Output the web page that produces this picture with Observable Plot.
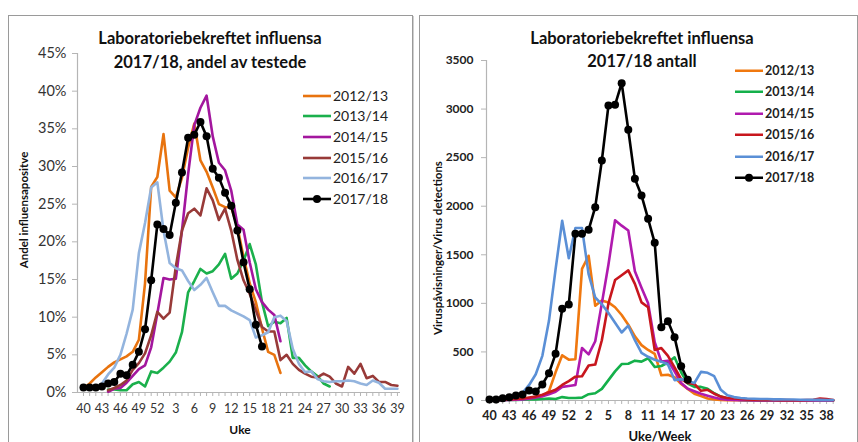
<!DOCTYPE html>
<html>
<head>
<meta charset="utf-8">
<script src="https://cdn.jsdelivr.net/npm/d3@7"></script>
<script src="https://cdn.jsdelivr.net/npm/@observablehq/plot@0.6"></script>
<style>
  body { margin: 0; background: #fff; font-family: Lato, "Open Sans", sans-serif; }
  #wrap { position: relative; width: 858px; height: 442px; overflow: hidden; background: #fff; }
  .panel { position: absolute; border: 1px solid #9a9a9a; box-shadow: 1px 1px 0 #cfcfcf; }
  .chart { position: absolute; top: 0; }
  .t { position: absolute; white-space: nowrap; color: #111; line-height: 1; }
</style>
</head>
<body>
<div id="wrap">
  <div class="panel" style="left:8px;top:15px;width:403px;height:440px;"></div>
  <div class="panel" style="left:419px;top:15px;width:437px;height:440px;"></div>
  <div class="chart" id="left" style="left:0px;"></div>
  <div class="chart" id="right" style="left:420px;"></div>
</div>
<script>
// ---------------- DATA ----------------
const seasons = ["2012/13", "2013/14", "2014/15", "2015/16", "2016/17", "2017/18"];

// Left chart: share of tested that were positive (%)
const leftWeeks = ["40","41","42","43","44","45","46","47","48","49","50","51","52",
  "1","2","3","4","5","6","7","8","9","10","11","12","13","14","15","16","17","18","19","20",
  "21","22","23","24","25","26","27","28","29","30","31","32","33","34","35","36","37","38","39"];
const leftTickLabels = ["40","43","46","49","52","3","6","9","12","15","18","21","24","27","30","33","36","39"];
const leftYTicks = [0, 5, 10, 15, 20, 25, 30, 35, 40, 45];

const left1213 = [0.5,1.2,2.0,2.7,3.4,4.0,4.4,4.8,5.4,7.0,14.5,27.3,28.6,34.3,26.8,25.9,28.5,32.5,35.7,30.8,29.3,27.2,25.0,24.6,24.6,22.0,18.0,14.5,12.0,8.5,5.4,5.0,2.6,
  null,null,null,null,null,null,null,null,null,null,null,null,null,null,null,null,null,null,null];
const left1314 = [null,null,null,null,0.4,0.4,0.3,0.3,1.1,1.4,0.8,2.8,2.6,3.3,4.1,5.3,8.0,13.3,14.8,16.4,15.8,16.1,17.0,18.4,15.1,15.8,17.5,19.7,17.0,12.0,8.8,9.4,9.2,9.9,4.6,4.6,3.6,2.8,2.2,1.2,0.8,
  null,null,null,null,null,null,null,null,null,null,null];
const left1415 = [null,null,null,null,0.1,0.5,0.6,1.3,2.2,3.1,3.6,6.0,10.5,15.2,15.0,15.1,21.5,29.0,35.5,37.8,39.4,34.0,30.5,29.5,26.8,22.3,21.6,17.3,13.7,12.0,11.0,10.3,6.8,
  null,null,null,null,null,null,null,null,null,null,null,null,null,null,null,null,null,null,null];
const left1516 = [null,null,null,null,0.3,0.6,1.0,1.6,3.0,3.9,5.2,7.6,10.7,9.8,10.6,16.7,21.5,23.8,24.4,23.5,27.1,25.5,22.9,24.4,21.5,17.6,14.9,13.1,10.9,8.7,8.1,8.1,4.3,5.0,3.8,3.0,2.5,2.1,2.0,2.5,2.1,1.2,0.8,3.4,2.5,3.8,1.9,2.2,1.4,1.4,1.0,0.9];
const left1617 = [null,null,null,1.2,2.4,3.3,5.0,7.8,11.0,18.5,22.5,27.2,27.9,21.5,17.2,16.5,16.2,14.8,13.6,14.3,15.2,13.3,11.5,11.5,10.9,10.5,10.1,9.6,7.3,7.6,8.0,10.0,10.2,9.5,5.8,3.8,2.7,2.8,1.8,1.5,1.4,1.5,1.5,1.6,1.5,1.2,1.0,1.6,1.3,0.5,0.5,0.5];
const left1718 = [0.66,0.66,0.66,0.8,1.2,1.4,2.5,2.3,3.7,5.4,8.4,14.9,22.3,21.7,20.9,25.2,29.2,33.8,34.2,35.9,34.0,29.7,28.5,26.5,24.8,21.5,17.3,13.7,9.0,6.1,
  null,null,null,null,null,null,null,null,null,null,null,null,null,null,null,null,null,null,null,null,null,null];
const leftColors = ["#E8730E", "#1BB04C", "#A3169E", "#983A38", "#93B4DE", "#000000"];

// Right chart: number of virus detections
const rightWeeks = ["40","41","42","43","44","45","46","47","48","49","50","51","52","53",
  "1","2","3","4","5","6","7","8","9","10","11","12","13","14","15","16","17","18","19","20",
  "21","22","23","24","25","26","27","28","29","30","31","32","33","34","35","36","37","38","39"];
const rightTickLabels = ["40","43","46","49","52","2","5","8","11","14","17","20","23","26","29","32","35","38"];
const rightYTicks = [0, 500, 1000, 1500, 2000, 2500, 3000, 3500];

const right1213 = [5,5,8,10,12,15,20,30,45,95, 290,465,420,425,1355,1490,975,1030,1010,960, 880,780,660,570,520,480,260,265,240,170, 120,70,45,20,10,5,3,2,2,1, 1,0,0,0,0,0,0,0,0,0,0,0,0];
const right1314 = [3,3,5,5,6,8,10,12,15,20, 15,35,25,25,30,65,75,120,210,300, 375,378,410,400,435,345,355,390,445,290, 175,140,140,120,75,40,20,10,5,3, 2,1,0,0,0,0,0,0,0,0,0,0,0];
const right1415 = [2,2,3,5,8,12,18,30,45,65, 90,140,150,160,540,475,610,1000,1400,1855, 1800,1750,1330,1160,1000,600,400,410,300,180, 120,95,70,50,30,15,8,5,3,2, 1,0,0,0,0,0,0,0,0,0,0,0,0];
const right1516 = [5,5,8,10,15,20,30,40,60,85, 110,160,200,245,250,360,370,620,1000,1240, 1290,1340,1200,1010,960,520,540,460,340,220, 180,170,100,110,70,40,25,20,15,10, 8,6,5,5,4,4,3,3,5,8,20,15,5];
const right1617 = [15,15,20,25,40,80,160,270,460,820, 1350,1850,1465,1775,1775,1300,1060,990,900,800, 700,770,620,490,450,420,400,370,210,220, 200,180,295,285,250,110,55,35,25,20, 18,15,15,12,12,10,10,8,8,8,6,5,5];
const right1718 = [10,10,24,34,51,62,103,93,165,281, 480,944,988,1716,1716,1757,1990,2471,3037,3044, 3267,2787,2282,2111,1870,1623,755,817,652,353, 213,
  null,null,null,null,null,null,null,null,null,null,null,null,null,null,null,null,null,null,null,null,null,null];
const rightColors = ["#F0780F", "#14B04A", "#B01AAE", "#C8161D", "#5A8FD6", "#000000"];

// ---------------- HELPERS ----------------
function rows(seriesArrays) {
  const out = [];
  seriesArrays.forEach((arr, k) => arr.forEach((v, i) => {
    if (v != null) out.push({season: seasons[k], i, v});
  }));
  return out;
}

function addText(parent, text, x, y, css, rotate) {
  const d = document.createElement("div");
  d.className = "t";
  d.textContent = text;
  d.style.left = x + "px";
  d.style.top = y + "px";
  d.style.transform = "translate(-50%,-50%)" + (rotate ? " rotate(-90deg)" : "");
  d.style.cssText += css;
  parent.appendChild(d);
}

function addLegend(parent, x, ys, colors, css, lineW) {
  seasons.forEach((s, k) => {
    const row = document.createElement("div");
    row.className = "t";
    row.style.left = x + "px";
    row.style.top = ys[k] + "px";
    row.style.transform = "translateY(-50%)";
    row.style.display = "flex";
    row.style.alignItems = "center";
    row.style.cssText += css;
    const ns = "http://www.w3.org/2000/svg";
    const sw = document.createElementNS(ns, "svg");
    sw.setAttribute("width", lineW);
    sw.setAttribute("height", 10);
    sw.style.marginRight = "2px";
    const ln = document.createElementNS(ns, "line");
    ln.setAttribute("x1", 0); ln.setAttribute("x2", lineW);
    ln.setAttribute("y1", 5); ln.setAttribute("y2", 5);
    ln.setAttribute("stroke", colors[k]);
    ln.setAttribute("stroke-width", 2.6);
    sw.appendChild(ln);
    if (k === seasons.length - 1) {
      const c = document.createElementNS(ns, "circle");
      c.setAttribute("cx", lineW / 2); c.setAttribute("cy", 5); c.setAttribute("r", 4);
      c.setAttribute("fill", colors[k]);
      sw.appendChild(c);
    }
    row.appendChild(sw);
    const sp = document.createElement("span");
    sp.textContent = s;
    row.appendChild(sp);
    parent.appendChild(row);
  });
}

// ---------------- LEFT CHART ----------------
{
  const data = rows([left1213, left1314, left1415, left1516, left1617]);
  const last = rows([[], [], [], [], [], left1718]);
  const allIdx = leftWeeks.map((w, i) => i);
  const tickIdx = leftTickLabels.map(l => leftWeeks.indexOf(l));
  const x0 = -0.97, x1 = 51.5;
  const chart = Plot.plot({
    width: 420, height: 442,
    marginLeft: 77, marginRight: 20, marginTop: 53, marginBottom: 50,
    style: {background: "transparent", overflow: "visible", fontFamily: "Lato, sans-serif"},
    x: {domain: [x0, x1], axis: null, label: null},
    y: {domain: [0, 45], axis: null, label: null},
    color: {domain: seasons, range: leftColors},
    marks: [
      Plot.axisY({ticks: leftYTicks, tickSize: 5, tickPadding: 6, tickFormat: d => d + "%", label: null,
        fontSize: 14.5, fill: "#333", stroke: "#b5b5b5"}),
      Plot.axisX({ticks: allIdx, tickSize: 4, tickFormat: () => "", label: null, stroke: "#b5b5b5"}),
      Plot.axisX({ticks: tickIdx, tickSize: 0, tickPadding: 12, tickFormat: i => leftWeeks[i], label: null,
        fontSize: 12.5, fill: "#333"}),
      Plot.ruleX([x0], {stroke: "#b5b5b5", strokeWidth: 1.2}),
      Plot.ruleY([0], {stroke: "#b5b5b5", strokeWidth: 1.2}),
      Plot.line(data, {x: "i", y: "v", z: "season", stroke: "season", strokeWidth: 2.6}),
      Plot.line(last, {x: "i", y: "v", stroke: leftColors[5], strokeWidth: 2.6}),
      Plot.dot(last, {x: "i", y: "v", r: 4, fill: leftColors[5]})
    ]
  });
  document.getElementById("left").appendChild(chart);
  const wrap = document.getElementById("wrap");
  addText(wrap, "Laboratoriebekreftet influensa", 210, 38, "font-weight:bold;font-size:16.5px;");
  addText(wrap, "2017/18, andel av testede", 210, 62, "font-weight:bold;font-size:16.5px;");
  addText(wrap, "Andel influensapositve", 24, 210, "font-weight:bold;font-size:11.5px;", true);
  addText(wrap, "Uke", 240, 430, "font-weight:bold;font-size:12px;");
  addLegend(wrap, 303, [96, 116, 137, 158, 178, 199], leftColors, "font-size:14px;color:#222;", 28);
}

// ---------------- RIGHT CHART ----------------
{
  const data = rows([right1213, right1314, right1415, right1516, right1617]);
  const last = rows([[], [], [], [], [], right1718]);
  const allIdx = rightWeeks.map((w, i) => i);
  const tickIdx = rightTickLabels.map(l => rightWeeks.indexOf(l));
  const x0 = -0.45, x1 = 52.35;
  const chart = Plot.plot({
    width: 438, height: 442,
    marginLeft: 66, marginRight: 23, marginTop: 60, marginBottom: 42,
    style: {background: "transparent", overflow: "visible", fontFamily: "Lato, sans-serif", fontWeight: "bold"},
    x: {domain: [x0, x1], axis: null, label: null},
    y: {domain: [0, 3500], axis: null, label: null},
    color: {domain: seasons, range: rightColors},
    marks: [
      Plot.axisY({ticks: rightYTicks, tickSize: 5, tickPadding: 8, tickFormat: d => String(d), label: null,
        fontSize: 12, fill: "#222", stroke: "#b5b5b5"}),
      Plot.axisX({ticks: allIdx, tickSize: 4, tickFormat: () => "", label: null, stroke: "#b5b5b5"}),
      Plot.axisX({ticks: tickIdx, tickSize: 0, tickPadding: 11, tickFormat: i => rightWeeks[i], label: null,
        fontSize: 12.5, fill: "#222"}),
      Plot.ruleX([x0], {stroke: "#b5b5b5", strokeWidth: 1.2}),
      Plot.ruleY([0], {stroke: "#b5b5b5", strokeWidth: 1.2}),
      Plot.line(data, {x: "i", y: "v", z: "season", stroke: "season", strokeWidth: 2.6}),
      Plot.line(last, {x: "i", y: "v", stroke: rightColors[5], strokeWidth: 2.6}),
      Plot.dot(last, {x: "i", y: "v", r: 4, fill: rightColors[5]})
    ]
  });
  document.getElementById("right").appendChild(chart);
  const wrap = document.getElementById("wrap");
  addText(wrap, "Laboratoriebekreftet influensa", 642, 38, "font-weight:bold;font-size:16.5px;");
  addText(wrap, "2017/18 antall", 642, 61, "font-weight:bold;font-size:16.5px;");
  addText(wrap, "Viruspåvisninger/Virus detections", 438, 248, "font-weight:bold;font-size:11.5px;", true);
  addText(wrap, "Uke/Week", 660, 436, "font-weight:bold;font-size:13px;");
  addLegend(wrap, 735, [71, 92, 114, 135, 157, 178], rightColors, "font-size:12.5px;font-weight:bold;color:#222;", 28);
}
</script>
</body>
</html>
